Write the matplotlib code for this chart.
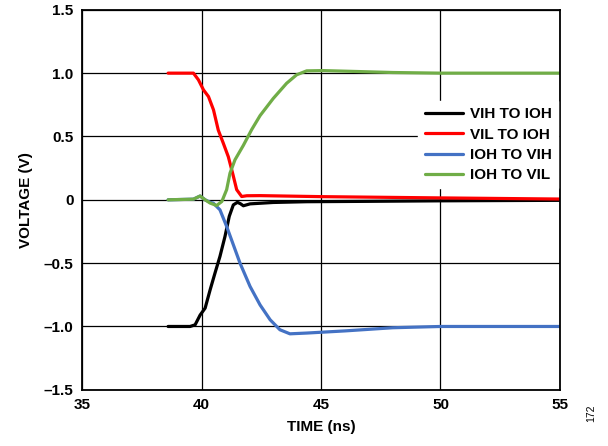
import numpy as np
from matplotlib import pyplot as plt

plt.rcParams['font.family'] = ['Liberation Sans', 'DejaVu Sans']
plt.rcParams['font.weight'] = 'bold'

# VIH TO IOH
t_black = [38.6, 39.2, 39.52, 39.73, 39.94, 40.15, 40.36, 40.56, 40.77, 40.98, 41.16, 41.33, 41.5, 41.62,
           41.75, 42.03, 43.0, 44.4, 47.0, 50.0, 55.0]
v_black = [-1.0, -1.0, -1.0, -0.987, -0.91, -0.855, -0.71, -0.58, -0.447, -0.29, -0.13, -0.04, -0.02, -0.03,
           -0.047, -0.032, -0.021, -0.015, -0.012, -0.008, -0.004]

# VIL TO IOH
t_red = [38.6, 39.2, 39.66, 39.87, 40.08, 40.29, 40.5, 40.7, 40.91, 41.12, 41.3, 41.47, 41.68, 41.89, 42.45,
         45.0, 50.0, 55.0]
v_red = [1.0, 1.0, 1.0, 0.947, 0.868, 0.815, 0.71, 0.55, 0.447, 0.34, 0.21, 0.08, 0.026, 0.032, 0.033,
         0.025, 0.015, 0.006]

# IOH TO VIH
t_blue = [38.6, 39.66, 39.94, 40.15, 40.36, 40.49, 40.77, 41.05, 41.33, 41.61, 42.03, 42.45, 42.87, 43.28,
          43.7, 44.4, 46.0, 48.0, 50.0, 55.0]
v_blue = [0.0, 0.005, 0.03, 0.0, -0.02, -0.026, -0.079, -0.21, -0.355, -0.5, -0.684, -0.83, -0.947, -1.026,
          -1.058, -1.052, -1.035, -1.01, -1.0, -1.0]

# IOH TO VIL
t_green = [38.6, 39.66, 39.94, 40.15, 40.36, 40.63, 40.85, 41.05, 41.19, 41.4, 41.75, 42.1, 42.45, 43.0,
           43.56, 43.98, 44.4, 45.1, 46.5, 48.0, 50.0, 55.0]
v_green = [0.0, 0.005, 0.03, 0.0, -0.026, -0.045, -0.013, 0.08, 0.21, 0.316, 0.43, 0.555, 0.665, 0.80,
           0.92, 0.987, 1.018, 1.02, 1.013, 1.005, 1.0, 1.0]

fig = plt.figure(figsize=(6.08, 4.46), dpi=100)
ax = fig.add_axes([0.135, 0.126, 0.786, 0.852])

style = dict(lw=2.3, solid_joinstyle="round", solid_capstyle="round")
ax.plot(t_black, v_black, color="black", label="VIH TO IOH", **style)
ax.plot(t_red, v_red, color="#ff0000", label="VIL TO IOH", **style)
ax.plot(t_blue, v_blue, color="#4472c4", label="IOH TO VIH", **style)
ax.plot(t_green, v_green, color="#70ad47", label="IOH TO VIL", **style)

ax.set_xlim(35, 55)
ax.set_ylim(-1.5, 1.5)
ax.set_xticks([35, 40, 45, 50, 55])
ax.set_yticks([1.5, 1.0, 0.5, 0, -0.5, -1.0, -1.5])
ax.set_yticklabels(["1.5", "1.0", "0.5", "0", "\u20130.5", "\u20131.0", "\u20131.5"])
ax.tick_params(length=0, labelsize=11, pad=6)
ax.grid(True, color="black", lw=0.9)
ax.set_axisbelow(True)
for s in ax.spines.values():
    s.set_linewidth(1.3)

ax.set_xlabel("TIME (ns)", fontsize=11, fontweight="bold", labelpad=6)
ax.set_ylabel("VOLTAGE (V)", fontsize=11, fontweight="bold", labelpad=8)

leg = ax.legend(loc="center right", bbox_to_anchor=(0.995, 0.645), borderaxespad=0, fontsize=11,
                frameon=True, fancybox=False, framealpha=1, edgecolor="white",
                handlelength=2.5, handletextpad=0.45, labelspacing=0.42)

fig.text(0.972, 0.074, "172", rotation=90, fontsize=7.5, fontweight="normal", ha="center", va="center")

plt.savefig("out.png", dpi=100)
